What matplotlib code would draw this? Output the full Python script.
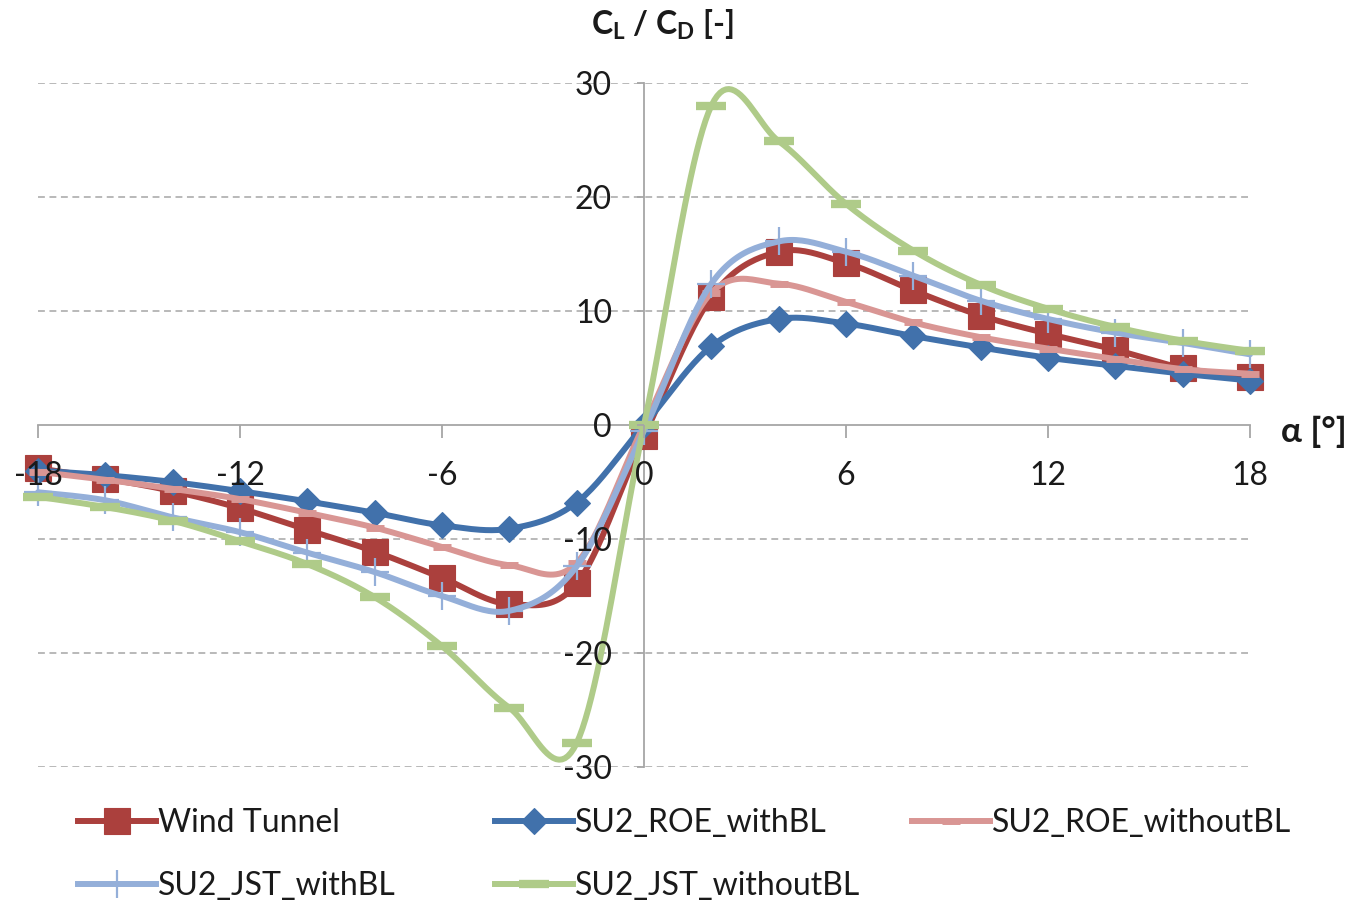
import numpy as np
import matplotlib
matplotlib.use("Agg")
import matplotlib.pyplot as plt
from matplotlib.lines import Line2D

plt.rcParams['font.family'] = ['Lato', 'DejaVu Sans']
plt.rcParams['mathtext.fontset'] = 'custom'
plt.rcParams['mathtext.rm'] = 'Lato'
plt.rcParams['mathtext.bf'] = 'Lato:bold'
plt.rcParams['mathtext.it'] = 'Lato:italic'

# ---- data ----
alpha = [-18, -16, -14, -12, -10, -8, -6, -4, -2, 0, 2, 4, 6, 8, 10, 12, 14, 16, 18]
wind_tunnel = [-3.8, -4.7, -5.8, -7.3, -9.2, -11.1, -13.4, -15.7, -13.9, -1.0,
               11.2, 15.2, 14.2, 11.8, 9.6, 8.0, 6.6, 5.0, 4.2]
roe_withBL = [-4.0, -4.4, -5.0, -5.8, -6.7, -7.7, -8.8, -9.1, -6.8, 0.0,
              6.9, 9.3, 8.9, 7.8, 6.8, 5.9, 5.2, 4.5, 3.9]
roe_withoutBL = [-4.1, -4.8, -5.6, -6.5, -7.7, -9.0, -10.7, -12.3, -12.1, 0.0,
                 11.6, 12.4, 10.8, 9.0, 7.7, 6.7, 5.8, 4.9, 4.5]
jst_withBL = [-5.9, -6.6, -8.1, -9.4, -11.2, -12.9, -15.0, -16.3, -12.4, -0.5,
              12.4, 16.1, 15.2, 13.1, 10.9, 9.3, 8.1, 7.2, 6.2]
jst_withoutBL = [-6.3, -7.2, -8.4, -10.2, -12.2, -15.1, -19.4, -24.8, -27.9, 0.0,
                 28.0, 24.9, 19.4, 15.3, 12.3, 10.2, 8.6, 7.4, 6.5]

labels = ['Wind Tunnel', 'SU2_ROE_withBL', 'SU2_ROE_withoutBL', 'SU2_JST_withBL', 'SU2_JST_withoutBL']
colors = ['#AB403D', '#4171AB', '#D99694', '#94AFD9', '#AFCB89']
xticks = [-18, -12, -6, 0, 6, 12, 18]
yticks = [-30, -20, -10, 0, 10, 20, 30]


def smooth(x, y, n=24):
    """Excel-like smoothed line: Catmull-Rom segments as cubic Beziers."""
    P = np.column_stack([x, y]).astype(float)
    out = []
    t = np.linspace(0, 1, n)[:, None]
    for i in range(len(P) - 1):
        p0 = P[i - 1] if i > 0 else P[i]
        p1, p2 = P[i], P[i + 1]
        p3 = P[i + 2] if i + 2 < len(P) else P[i + 1]
        c1 = p1 + (p2 - p0) / 6.0
        c2 = p2 - (p3 - p1) / 6.0
        seg = ((1 - t) ** 3) * p1 + 3 * ((1 - t) ** 2) * t * c1 + 3 * (1 - t) * t ** 2 * c2 + t ** 3 * p2
        out.append(seg if i == 0 else seg[1:])
    S = np.vstack(out)
    return S[:, 0], S[:, 1]


W, H = 1352, 901
fig = plt.figure(figsize=(W / 100, H / 100), dpi=100)
ax = fig.add_axes([38 / W, 1 - 767 / H, (1250 - 38) / W, (767 - 83) / H])
ax.set_xlim(-18, 18)
ax.set_ylim(-30, 30)

gray = '#A6A6A6'
txt = '#1a1a1a'
for yv in yticks:
    if yv != 0:
        ax.axhline(yv, color=gray, lw=1.1, ls=(0, (4.5, 3)), zorder=1)

series = [wind_tunnel, roe_withBL, roe_withoutBL, jst_withBL, jst_withoutBL]
mstyles = [
    dict(marker='s', ms=19, mew=0.8),
    dict(marker='D', ms=13, mew=0.8),
    dict(marker='_', ms=13, mew=5),
    dict(marker='+', ms=20, mew=1.6),
    dict(marker='_', ms=21, mew=6),
]
handles = []
for k, (ys, c, st) in enumerate(zip(series, colors, mstyles)):
    sx, sy = smooth(alpha, ys)
    ax.plot(sx, sy, color=c, lw=4.3, solid_capstyle='round', zorder=3 + k, clip_on=False)
    ax.plot(alpha, ys, ls='none', color=c, mfc=c, mec=c, zorder=3 + k, clip_on=False, **st)
    handles.append(Line2D([0], [0], color=c, lw=4.3, mfc=c, mec=c, **st))

for s in ['top', 'right']:
    ax.spines[s].set_visible(False)
ax.spines['left'].set_position(('data', 0))
ax.spines['bottom'].set_position(('data', 0))
for s in ['left', 'bottom']:
    ax.spines[s].set_color(gray)
    ax.spines[s].set_linewidth(1.3)
    ax.spines[s].set_zorder(2)

ax.set_xticks(xticks)
ax.set_xticklabels([str(v) for v in xticks])
ax.set_yticks(yticks)
ax.set_yticklabels([str(v) for v in yticks])
ax.tick_params(axis='x', direction='out', length=9, width=1.3, color=gray, pad=17,
               labelsize=23, labelcolor=txt)
ax.tick_params(axis='y', direction='out', length=5, width=1.3, color=gray, pad=18,
               labelsize=23, labelcolor=txt)
ax.xaxis.set_zorder(20)
ax.yaxis.set_zorder(20)
ax.set_facecolor('none')

fig.text(662 / W, 1 - 25 / H, r'$\mathbf{C_L}$ / $\mathbf{C_D}$ [-]', ha='center', va='center',
         fontsize=23, fontweight='bold', color=txt)
fig.text(1281 / W, 1 - 432 / H, 'α [°]', ha='left', va='center',
         fontsize=25, fontweight='bold', color=txt)

pos = [(78, 823), (495, 823), (912, 823), (78, 886), (495, 886)]
for h, lab, (px, py) in zip(handles, labels, pos):
    fig.legend(handles=[h], labels=[lab], loc='center left',
               bbox_to_anchor=(px / W, 1 - py / H), frameon=False,
               borderpad=0, borderaxespad=0, handlelength=2.45, handletextpad=0.04,
               fontsize=23, labelcolor=txt)

fig.savefig('out.png', dpi=100)
